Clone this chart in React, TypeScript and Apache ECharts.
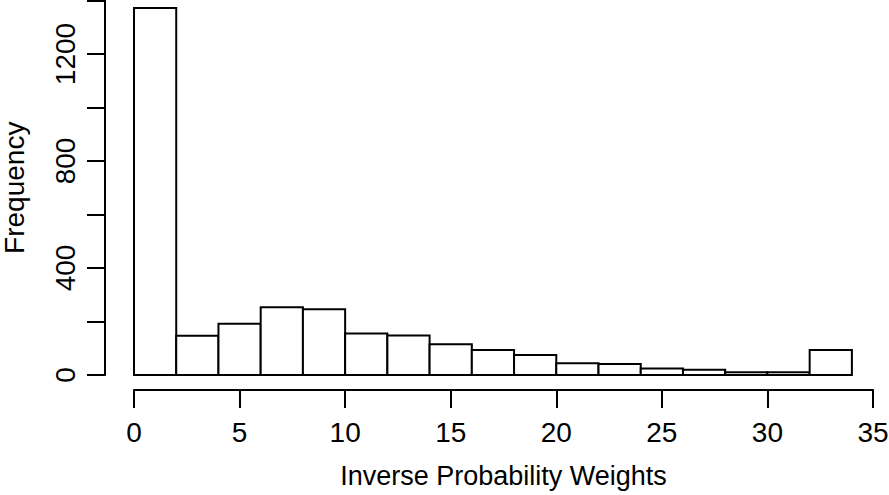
import React, { useEffect, useRef } from "react";
import * as echarts from "echarts";

const binStarts = [0, 2, 4, 6, 8, 10, 12, 14, 16, 18, 20, 22, 24, 26, 28, 30, 32];
const binWidth = 2;
const counts = [1372, 147, 192, 253, 246, 155, 148, 115, 93, 75, 44, 41, 24, 20, 10, 10, 93];
const yLabelValues = [0, 400, 800, 1200];
const xTitle = "Inverse Probability Weights";
const yTitle = "Frequency";

export default function App() {
  const ref = useRef<HTMLDivElement>(null);
  useEffect(() => {
    if (!ref.current) return;
    const chart = echarts.init(ref.current, null, { renderer: "svg" });
    const font = "'Liberation Sans', Arial, Helvetica, sans-serif";
    const data = binStarts.map((s, i) => [s, s + binWidth, counts[i]]);
    chart.setOption({
      animation: false,
      backgroundColor: "#ffffff",
      textStyle: { fontFamily: font, color: "#000" },
      grid: {
        left: 134,
        right: 16,
        top: 0.5,
        bottom: 120,
        containLabel: false,
        outerBoundsMode: "none",
      },
      xAxis: {
        type: "value",
        min: 0,
        max: 35,
        interval: 5,
        offset: 15,
        splitLine: { show: false },
        axisLine: { show: true, onZero: false, lineStyle: { color: "#000", width: 2 } },
        axisTick: { show: true, length: 18, lineStyle: { color: "#000", width: 2 } },
        axisLabel: { color: "#000", fontSize: 28, fontFamily: font, margin: 28 },
        name: xTitle,
        nameLocation: "middle",
        nameGap: 72,
        nameMoveOverlap: false,
        nameTextStyle: { color: "#000", fontSize: 27, fontFamily: font },
      },
      yAxis: {
        type: "value",
        min: 0,
        max: 1400,
        interval: 200,
        offset: 29,
        splitLine: { show: false },
        axisLine: { show: true, onZero: false, lineStyle: { color: "#000", width: 2 } },
        axisTick: { show: true, length: 18, lineStyle: { color: "#000", width: 2 } },
        axisLabel: {
          color: "#000",
          fontSize: 28,
          fontFamily: font,
          rotate: 90,
          margin: 26,
          formatter: (v: number) => (yLabelValues.includes(v) ? String(v) : ""),
        },
        name: yTitle,
        nameLocation: "middle",
        nameGap: 77,
        nameRotate: 90,
        nameMoveOverlap: false,
        nameTextStyle: { color: "#000", fontSize: 28, fontFamily: font },
      },
      series: [
        {
          type: "custom",
          data,
          renderItem: (params: any, api: any) => {
            const x0 = api.value(0);
            const x1 = api.value(1);
            const y = api.value(2);
            const p0 = api.coord([x0, y]);
            const p1 = api.coord([x1, 0]);
            return {
              type: "rect",
              shape: { x: p0[0], y: p0[1], width: p1[0] - p0[0], height: p1[1] - p0[1] },
              style: { fill: "#ffffff", stroke: "#000", lineWidth: 2 },
            };
          },
          encode: { x: [0, 1], y: 2 },
        },
      ],
    });
    return () => chart.dispose();
  }, []);
  return (
    <div
      ref={ref}
      style={{ position: "fixed", left: 0, top: 0, width: 889, height: 495 }}
    />
  );
}
